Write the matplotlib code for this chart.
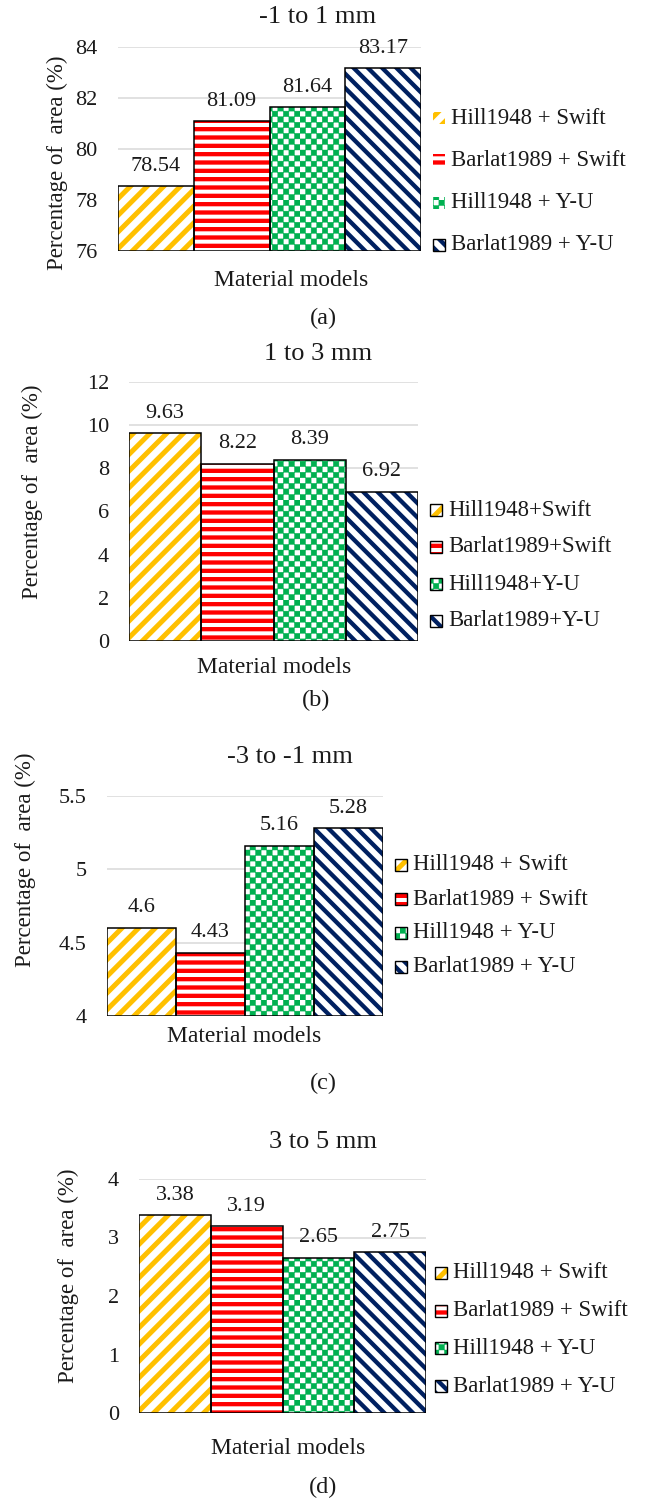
import warnings

import numpy as np
import matplotlib
matplotlib.use("Agg")
import matplotlib.pyplot as plt
from matplotlib import hatch as mhatch
from matplotlib.path import Path
from matplotlib.patches import Rectangle

warnings.filterwarnings("ignore", category=matplotlib.MatplotlibDeprecationWarning)
plt.rcParams["font.family"] = ["Liberation Serif", "DejaVu Serif"]

# ---------------------------------------------------------------- data
models_spaced = ["Hill1948 + Swift", "Barlat1989 + Swift",
                 "Hill1948 + Y-U", "Barlat1989 + Y-U"]
models_compact = ["Hill1948+Swift", "Barlat1989+Swift",
                  "Hill1948+Y-U", "Barlat1989+Y-U"]

titles = ["-1 to 1 mm", "1 to 3 mm", "-3 to -1 mm", "3 to 5 mm"]
panel_tags = ["(a)", "(b)", "(c)", "(d)"]

area_m1_to_1 = [78.54, 81.09, 81.64, 83.17]
area_1_to_3 = [9.63, 8.22, 8.39, 6.92]
area_m3_to_m1 = [4.6, 4.43, 5.16, 5.28]
area_3_to_5 = [3.38, 3.19, 2.65, 2.75]

ticks_m1_to_1 = [76, 78, 80, 82, 84]
ticks_1_to_3 = [0, 2, 4, 6, 8, 10, 12]
ticks_m3_to_m1 = [4, 4.5, 5, 5.5]
ticks_3_to_5 = [0, 1, 2, 3, 4]

y_title = "Percentage of  area (%)"
x_title = "Material models"


# ------------------------------------------------------- custom hatches
class BackStripeHatch(mhatch.HatchPatternBase):
    """Back-diagonal stripes ('k'), denser than the built-in '\\'."""
    lines_per_char = 14

    def __init__(self, hatch, density):
        self.num_lines = hatch.count("k") * self.lines_per_char
        self.num_vertices = (self.num_lines + 1) * 2 if self.num_lines else 0

    def set_vertices_and_codes(self, vertices, codes):
        steps = np.linspace(-0.5, 0.5, self.num_lines + 1)
        vertices[0::2, 0] = 0.0 + steps
        vertices[0::2, 1] = 1.0 + steps
        vertices[1::2, 0] = 1.0 + steps
        vertices[1::2, 1] = 0.0 + steps
        codes[0::2] = Path.MOVETO
        codes[1::2] = Path.LINETO


class CheckerHatch(mhatch.HatchPatternBase):
    """Filled checkerboard ('c')."""
    filled = True
    cells_per_char = 18

    def __init__(self, hatch, density):
        self.n = hatch.count("c") * self.cells_per_char
        self.num_vertices = (self.n * self.n // 2) * 5

    def set_vertices_and_codes(self, vertices, codes):
        s = 1.0 / self.n
        square = np.array([[0, 0], [s, 0], [s, s], [0, s], [0, 0]])
        square_codes = [Path.MOVETO, Path.LINETO, Path.LINETO,
                        Path.LINETO, Path.CLOSEPOLY]
        k = 0
        for i in range(self.n):
            for j in range(self.n):
                if (i + j) % 2 == 0:
                    vertices[k:k + 5] = square + [i * s, j * s]
                    codes[k:k + 5] = square_codes
                    k += 5


mhatch._hatch_types.extend([BackStripeHatch, CheckerHatch])

# colour, hatch pattern, hatch line width (pt)
series_styles = [
    ("#FFC000", "//", 3.6),
    ("#FF0000", "--", 3.1),
    ("#00B050", "c", 0.3),
    ("#002060", "k", 3.1),
]

# ------------------------------------------------------------- layout
W, H = 645, 1505
fig = plt.figure(figsize=(W / 100, H / 100), dpi=100)


def fx(px):
    return px / W


def fy(py):
    return 1 - py / H


def apply_hatch_width(patch, lw):
    if hasattr(patch, "set_hatch_linewidth"):
        patch.set_hatch_linewidth(lw)


panels = [
    dict(values=area_m1_to_1, ticks=ticks_m1_to_1, labels=models_spaced,
         box=(118, 47, 421, 251), title=(318, 17), ylab=(57, 163),
         xlab=(291, 280), tag=(323, 318),
         key=(433, 118, 42.3), key_edges=[False, False, False, True]),
    dict(values=area_1_to_3, ticks=ticks_1_to_3, labels=models_compact,
         box=(129, 382, 418, 641), title=(318, 354), ylab=(32, 492),
         xlab=(274, 667), tag=(316, 700),
         key=(430, 510, 37.0), key_edges=[True] * 4),
    dict(values=area_m3_to_m1, ticks=ticks_m3_to_m1, labels=models_spaced,
         box=(107, 796, 383, 1016), title=(290, 757), ylab=(25, 860),
         xlab=(244, 1037), tag=(323, 1083),
         key=(395, 865, 34.0), key_edges=[True] * 4),
    dict(values=area_3_to_5, ticks=ticks_3_to_5, labels=models_spaced,
         box=(139, 1179, 426, 1413), title=(323, 1142), ylab=(68, 1276),
         xlab=(288, 1448), tag=(323, 1487),
         key=(435, 1273, 37.7), key_edges=[True] * 4),
]

for title, tag, p in zip(titles, panel_tags, panels):
    left, top, right, bottom = p["box"]
    ax = fig.add_axes([fx(left), fy(bottom), (right - left) / W,
                       (bottom - top) / H])
    values = np.asarray(p["values"], dtype=float)
    ticks = p["ticks"]
    base = ticks[0]
    x = np.arange(len(values))

    ax.set_xlim(-0.5, len(values) - 0.5)
    ax.set_ylim(ticks[0], ticks[-1])
    ax.set_yticks(ticks)
    ax.set_yticklabels([f"{t:g}" for t in ticks])
    ax.set_xticks([])
    ax.tick_params(axis="y", length=0, pad=14.5, labelsize=16,
                   labelcolor="#1a1a1a")
    for s in ax.spines.values():
        s.set_visible(False)
    ax.yaxis.grid(True, color="#D9D9D9", linewidth=1.1)
    ax.set_axisbelow(True)

    # patterned fills, then black outlines on top
    for xi, v, (col, hat, hlw) in zip(x, values, series_styles):
        bars = ax.bar(xi, v - base, bottom=base, width=1.0,
                      facecolor="white", edgecolor=col, hatch=hat,
                      linewidth=0, zorder=2)
        for b in bars:
            apply_hatch_width(b, hlw)
    ax.bar(x, values - base, bottom=base, width=1.0, fill=False,
           edgecolor="black", linewidth=1.1, zorder=3)

    for xi, v in zip(x, values):
        ax.annotate(f"{v:g}", xy=(xi, v), xytext=(0, 14.4),
                    textcoords="offset points", ha="center", va="center",
                    fontsize=16, color="#1a1a1a")

    fig.text(fx(p["title"][0]), fy(p["title"][1]), title, ha="center",
             va="center", fontsize=19, color="#1a1a1a")
    fig.text(fx(p["ylab"][0]), fy(p["ylab"][1]), y_title, rotation=90,
             ha="center", va="center", fontsize=16.5, color="#1a1a1a")
    fig.text(fx(p["xlab"][0]), fy(p["xlab"][1]), x_title, ha="center",
             va="center", fontsize=17, color="#1a1a1a")
    fig.text(fx(p["tag"][0]), fy(p["tag"][1]), tag, ha="center",
             va="center", fontsize=17.5, color="#1a1a1a")

    # legend keys
    kx, ky0, dy = p["key"]
    size = 12
    for i, (label, (col, hat, hlw), edged) in enumerate(
            zip(p["labels"], series_styles, p["key_edges"])):
        cy = ky0 + i * dy
        sw = Rectangle((fx(kx), fy(cy + size / 2)), size / W, size / H,
                       transform=fig.transFigure, facecolor="white",
                       edgecolor=col, hatch=hat, linewidth=0)
        apply_hatch_width(sw, hlw)
        fig.add_artist(sw)
        if edged:
            fig.add_artist(Rectangle((fx(kx), fy(cy + size / 2)), size / W,
                                     size / H, transform=fig.transFigure,
                                     fill=False, edgecolor="black",
                                     linewidth=1.0))
        fig.text(fx(kx + size + 6), fy(cy), label, ha="left", va="center",
                 fontsize=16.4, color="#1a1a1a")

fig.savefig("out.png", dpi=100, facecolor="white")
